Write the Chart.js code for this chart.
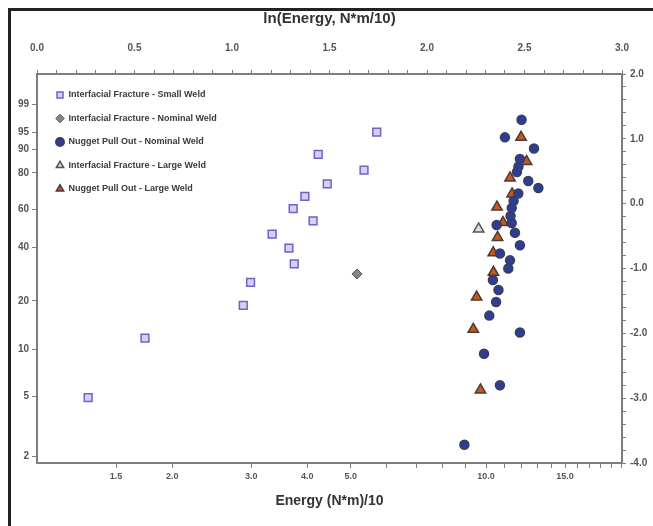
<!DOCTYPE html>
<html>
<head>
<meta charset="utf-8">
<script src="https://cdn.jsdelivr.net/npm/chart.js@4.4.1/dist/chart.umd.min.js"></script>
<style>
  html, body { margin: 0; padding: 0; background: #fff; }
  #wrap { position: relative; width: 653px; height: 526px; }
</style>
</head>
<body>
<div id="wrap"><canvas id="chart" width="653" height="526"></canvas></div>
<script>
// Energy in (N*m)/10, cumulative failure probability in %
const smallIfEnergy = [1.30, 1.74, 2.88, 2.99, 3.74, 3.64, 3.34, 4.12, 3.72, 3.95, 4.43, 5.35, 4.23, 5.71];
const smallIfProb   = [4.9, 11.8, 18.8, 25.7, 32.6, 39.6, 46.5, 53.5, 60.4, 67.4, 74.3, 81.3, 88.2, 95.1];

const nominalIfEnergy = [5.16];
const nominalIfProb   = [28.7];

const nominalPoEnergy = [8.95, 10.74, 9.90, 11.90, 10.17, 10.53, 10.66, 10.36, 11.21, 11.31,
                         10.74, 11.90, 11.60, 10.56, 11.41, 11.34, 11.41, 11.52, 11.80, 13.08,
                         12.42, 11.72, 11.81, 11.90, 12.79, 11.02, 12.00];
const nominalPoProb   = [2.4, 5.9, 9.4, 12.8, 16.3, 19.7, 23.2, 26.5, 30.8, 34.1,
                         37.1, 40.9, 47.2, 51.3, 52.4, 56.3, 60.8, 64.8, 69.0, 72.0,
                         75.8, 80.4, 83.0, 86.4, 90.4, 93.8, 97.4];

const largeIfEnergy = [9.63];
const largeIfProb   = [49.2];

const largePoEnergy = [9.72, 9.37, 9.53, 10.39, 10.38, 10.61, 10.91, 10.58, 11.43, 11.31, 12.31, 11.97];
const largePoProb   = [5.5, 13.4, 21.1, 29.3, 37.4, 44.8, 52.6, 61.3, 68.7, 77.4, 85.3, 93.8];

// axis ticks
const probTicks = [2, 5, 10, 20, 40, 60, 80, 90, 95, 99];
const energyTicks = [1.5, 2, 3, 4, 5, 6, 7, 8, 9, 10, 11, 12, 13, 14, 15, 16, 17, 18, 19, 20];
const energyLabels = [1.5, 2, 3, 4, 5, 10, 15];

// Weibull ordinate: ln(-ln(1 - F))
function weib(p) {
  return Math.log(-Math.log(1 - p / 100));
}

function toPoints(energy, prob) {
  return energy.map((e, i) => ({ x: e, y: weib(prob[i]) }));
}

const FONT = 'Liberation Sans, Arial, sans-serif';
const tickFont = { family: FONT, size: 10, weight: 'bold' };
const axisColor = '#7d7d7d';

// outer frame, open on the right and bottom
const framePlugin = {
  id: 'frame',
  afterDraw(chart) {
    const ctx = chart.ctx;
    ctx.save();
    ctx.strokeStyle = '#222';
    ctx.lineWidth = 3;
    ctx.beginPath();
    ctx.moveTo(9.5, chart.height);
    ctx.lineTo(9.5, 9.5);
    ctx.lineTo(chart.width, 9.5);
    ctx.stroke();
    ctx.restore();
  }
};

// keep the legend inside the plot, top-left corner
const legendInside = {
  id: 'legendInside',
  afterLayout(chart) {
    const lg = chart.legend;
    const ca = chart.chartArea;
    if (!lg) return;
    lg.left = ca.left + 4.5;
    lg.top = ca.top + 2;
    lg.right = ca.right;
    lg.bottom = ca.bottom;
  }
};

const isStep = (v, step) => Math.abs(v / step - Math.round(v / step)) < 1e-6;

new Chart(document.getElementById('chart'), {
  type: 'scatter',
  data: {
    datasets: [
      {
        label: 'Interfacial Fracture - Small Weld',
        data: toPoints(smallIfEnergy, smallIfProb),
        pointStyle: 'rect', pointRadius: 5.5,
        backgroundColor: '#d6d1f4', borderColor: '#6e62c9', borderWidth: 1.5
      },
      {
        label: 'Interfacial Fracture - Nominal Weld',
        data: toPoints(nominalIfEnergy, nominalIfProb),
        pointStyle: 'rectRot', pointRadius: 5,
        backgroundColor: '#858585', borderColor: '#555', borderWidth: 1
      },
      {
        label: 'Nugget Pull Out - Nominal Weld',
        data: toPoints(nominalPoEnergy, nominalPoProb),
        pointStyle: 'circle', pointRadius: 4.5,
        backgroundColor: '#2e3d96', borderColor: '#3b3f55', borderWidth: 1.5
      },
      {
        label: 'Interfacial Fracture - Large Weld',
        data: toPoints(largeIfEnergy, largeIfProb),
        pointStyle: 'triangle', pointRadius: 6,
        backgroundColor: '#dcdcdc', borderColor: '#555', borderWidth: 1.5
      },
      {
        label: 'Nugget Pull Out - Large Weld',
        data: toPoints(largePoEnergy, largePoProb),
        pointStyle: 'triangle', pointRadius: 6,
        backgroundColor: '#c9581f', borderColor: '#4a3b33', borderWidth: 1.5
      }
    ]
  },
  options: {
    responsive: false,
    animation: false,
    layout: { padding: 0 },
    plugins: {
      tooltip: { enabled: false },
      legend: {
        position: 'chartArea',
        align: 'start',
        labels: {
          usePointStyle: true,
          boxWidth: 8,
          boxHeight: 6,
          padding: 14.5,
          color: '#3a3a3a',
          font: { family: FONT, size: 9, weight: 'bold' }
        }
      }
    },
    scales: {
      x: {
        type: 'logarithmic',
        position: 'bottom',
        min: 1,
        max: Math.exp(3),
        bounds: 'data',
        afterBuildTicks: s => { s.ticks = energyTicks.map(v => ({ value: v })); },
        ticks: {
          autoSkip: false, maxRotation: 0, padding: 3,
          color: '#555', font: { family: FONT, size: 9, weight: 'bold' },
          callback: v => energyLabels.includes(v) ? v.toFixed(1) : ''
        },
        grid: { drawOnChartArea: false, tickLength: 5, color: axisColor },
        border: { color: axisColor, width: 2 },
        title: {
          display: true, text: 'Energy (N*m)/10', color: '#333',
          font: { family: FONT, size: 14, weight: 'bold' },
          padding: { top: 0, bottom: 16 }
        },
        afterFit: s => { s.height = 63; }
      },
      xTop: {
        type: 'linear',
        position: 'top',
        min: 0,
        max: 3,
        ticks: {
          stepSize: 0.1, autoSkip: false, maxRotation: 0, padding: 16,
          color: '#555', font: tickFont,
          callback: v => isStep(v, 0.5) ? v.toFixed(1) : ''
        },
        grid: { drawOnChartArea: false, tickLength: 4, color: axisColor },
        border: { color: axisColor, width: 2 },
        title: {
          display: true, text: 'ln(Energy, N*m/10)', color: '#333',
          font: { family: FONT, size: 15, weight: 'bold' },
          padding: { top: 10, bottom: 0 }
        },
        afterFit: s => { s.height = 74; }
      },
      y: {
        type: 'linear',
        position: 'right',
        min: -4,
        max: 2,
        ticks: {
          stepSize: 0.2, autoSkip: false, padding: 4,
          color: '#555', font: tickFont,
          callback: v => isStep(v, 1) ? v.toFixed(1) : ''
        },
        grid: { drawOnChartArea: false, tickLength: 4, color: axisColor },
        border: { color: axisColor, width: 2 },
        afterFit: s => { s.width = 31; }
      },
      yLeft: {
        type: 'linear',
        position: 'left',
        min: -4,
        max: 2,
        afterBuildTicks: s => { s.ticks = probTicks.map(p => ({ value: weib(p) })); },
        ticks: {
          autoSkip: false, padding: 3,
          color: '#555', font: tickFont,
          callback: (v, i) => String(probTicks[i])
        },
        grid: { drawOnChartArea: false, tickLength: 5, color: axisColor },
        border: { color: axisColor, width: 2 },
        afterFit: s => { s.width = 37; }
      }
    }
  },
  plugins: [framePlugin, legendInside]
});
</script>
</body>
</html>
